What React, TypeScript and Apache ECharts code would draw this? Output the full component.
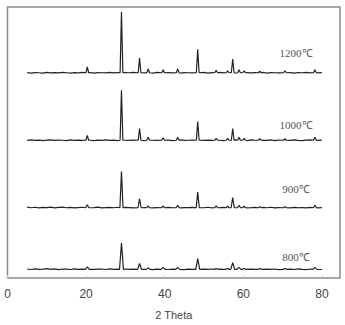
import React, { useEffect, useRef } from "react";
import * as echarts from "echarts";

const xTicks = [0, 20, 40, 60, 80];
const seriesNames = ["1200℃", "1000℃", "900℃", "800℃"];
const offsets = [209, 140, 71, 8];
const peakPos = [20.3, 29.0, 33.6, 35.8, 39.6, 43.3, 48.4, 53.1, 56.0, 57.3, 58.9, 60.2, 64.2, 70.6, 78.2];
const peaks1200 = [6, 62, 15, 4, 3, 4, 24, 2.5, 2, 14, 3, 2, 1.5, 2, 3];
const peaks1000 = [5, 51, 12, 3, 2.5, 3, 19, 2, 2, 12, 3, 2, 1.5, 1.5, 3];
const peaks900 = [3, 37, 9, 2, 2, 2.5, 16, 2, 1.5, 10.5, 2.5, 1.5, 1, 1, 2.5];
const peaks800 = [2.5, 27, 6, 1.5, 2, 2, 11, 1, 1, 7, 2, 1, 1, 1, 2];
const halfWidths = [0.35, 0.35, 0.4, 0.5];
const noiseStart = 5;
const noise1200 = [1, 0.5, 1, 0.8, 0.5, 1.2, 0.7, 1, 0.6, 1.1, 0.8, 0.5, 1, 0.7, 1.2, 0.6, 0.9, 0.5, 1, 0.8, 0.6, 1.1, 0.7, 0.9, 0.5, 1, 0.8, 1.2, 0.6, 0.9, 0.7, 1, 0.5, 1.1, 0.8, 0.6, 1, 0.7, 1.2, 0.5, 0.9, 0.8, 0.6, 1, 0.7, 1.1, 0.5, 0.9, 0.8, 1.2, 0.6, 1, 0.7, 0.5, 1.1, 0.8, 0.9, 0.6, 1, 0.7, 1.2, 0.5, 0.9, 0.8, 0.6, 1.1, 0.7, 1, 0.5, 0.9, 0.8, 1.2, 0.6, 1, 0.7, 0.9];
const noise1000 = [0.6, 1.1, 0.7, 1, 0.5, 0.9, 1.2, 0.6, 1, 0.8, 0.5, 1.1, 0.7, 0.9, 0.6, 1.2, 0.8, 0.5, 1, 0.7, 1.1, 0.6, 0.9, 0.5, 1.2, 0.8, 0.6, 1, 0.7, 1.1, 0.5, 0.9, 0.8, 0.6, 1.2, 0.7, 1, 0.5, 0.9, 1.1, 0.6, 0.8, 1, 0.5, 1.2, 0.7, 0.9, 0.6, 1.1, 0.8, 0.5, 1, 0.7, 1.2, 0.6, 0.9, 0.5, 1.1, 0.8, 1, 0.6, 0.7, 1.2, 0.5, 0.9, 0.8, 1, 0.6, 1.1, 0.7, 0.5, 0.9, 1.2, 0.8, 0.6, 1];
const noise900 = [1.5, 0.8, 1.3, 0.6, 1.2, 0.9, 1.4, 0.7, 1.1, 1.5, 0.8, 1.2, 0.6, 1, 1.3, 0.7, 1.1, 0.9, 1.4, 0.6, 1, 1.2, 0.8, 1.3, 0.7, 1.1, 0.9, 0.6, 1.2, 0.8, 1, 1.3, 0.7, 0.9, 1.2, 0.6, 1.1, 0.8, 1.3, 0.7, 1, 0.9, 1.2, 0.6, 1.1, 0.8, 1.3, 0.7, 1, 0.9, 1.2, 0.6, 1.1, 0.8, 1, 1.3, 0.7, 0.9, 1.2, 0.6, 1.1, 0.8, 1.3, 0.7, 1, 0.9, 1.2, 0.6, 1.1, 0.8, 1, 0.7, 1.2, 0.9, 0.6, 1];
const noise800 = [1.2, 0.7, 1.4, 0.9, 1.1, 1.5, 0.8, 1.3, 0.6, 1.2, 1, 0.7, 1.3, 0.9, 1.1, 0.6, 1.4, 0.8, 1, 1.2, 0.7, 1.3, 0.9, 1.1, 0.6, 1.2, 0.8, 1, 1.3, 0.7, 0.9, 1.2, 0.6, 1.1, 0.8, 1.3, 0.7, 1, 0.9, 1.2, 0.6, 1.1, 0.8, 1.3, 0.7, 1, 0.9, 1.2, 0.6, 1.1, 0.8, 1, 1.3, 0.7, 0.9, 1.2, 0.6, 1.1, 0.8, 1.3, 0.7, 1, 0.9, 1.2, 0.6, 1.1, 0.8, 1, 0.7, 1.3, 0.9, 0.6, 1.2, 0.8, 1, 0.7];
const labelY = [53, 125, 189, 257];

function buildSeries(peaks: number[], noise: number[], offset: number, hw: number) {
  const pts: number[][] = [];
  noise.forEach((v, i) => {
    const x = noiseStart + i;
    if (!peakPos.some((p) => Math.abs(p - x) < hw + 0.3)) pts.push([x, offset + v]);
  });
  peakPos.forEach((p, i) => {
    pts.push([p - hw, offset + 0.8]);
    pts.push([p, offset + 0.8 + peaks[i]]);
    pts.push([p + hw, offset + 0.8]);
  });
  pts.sort((a, b) => a[0] - b[0]);
  return pts;
}

export default function App() {
  const ref = useRef<HTMLDivElement>(null);
  useEffect(() => {
    if (!ref.current) return;
    const chart = echarts.init(ref.current, null, { renderer: "svg" });
    const allPeaks = [peaks1200, peaks1000, peaks900, peaks800];
    const allNoise = [noise1200, noise1000, noise900, noise800];
    chart.setOption({
      animation: false,
      grid: { left: 7.5, right: 5, top: 7, bottom: 41, show: true, borderColor: "#8a8a8a", borderWidth: 1.5, backgroundColor: "#fff" },
      xAxis: {
        type: "value",
        min: 0,
        max: 84.6,
        interval: 20,
        name: "2 Theta",
        nameLocation: "middle",
        nameGap: 31,
        nameTextStyle: { fontFamily: "Liberation Sans", fontSize: 11, color: "#444" },
        axisLine: { show: false },
        axisTick: { show: true, inside: true, length: 3, lineStyle: { color: "#ccc" } },
        splitLine: { show: false },
        axisLabel: {
          margin: 10,
          fontFamily: "Liberation Sans",
          fontSize: 12,
          color: "#444",
          showMaxLabel: false,
          formatter: (v: number) => (xTicks.includes(v) ? String(v) : ""),
        },
      },
      yAxis: { type: "value", min: 0, max: 277, show: false, splitLine: { show: false } },
      series: seriesNames.map((n, i) => ({
        name: n,
        type: "line",
        symbol: "none",
        data: buildSeries(allPeaks[i], allNoise[i], offsets[i], halfWidths[i]),
        lineStyle: { color: "#222", width: 1.2 },
      })),
      graphic: seriesNames.map((n, i) => ({
        type: "text",
        x: 296,
        y: labelY[i],
        style: { text: n, fontFamily: "Liberation Serif", fontSize: 11, fill: "#555", textAlign: "center", textVerticalAlign: "middle" },
      })),
    });
    return () => chart.dispose();
  }, []);
  return <div ref={ref} style={{ position: "fixed", left: 0, top: 0, width: 345, height: 325, background: "#fff" }} />;
}
